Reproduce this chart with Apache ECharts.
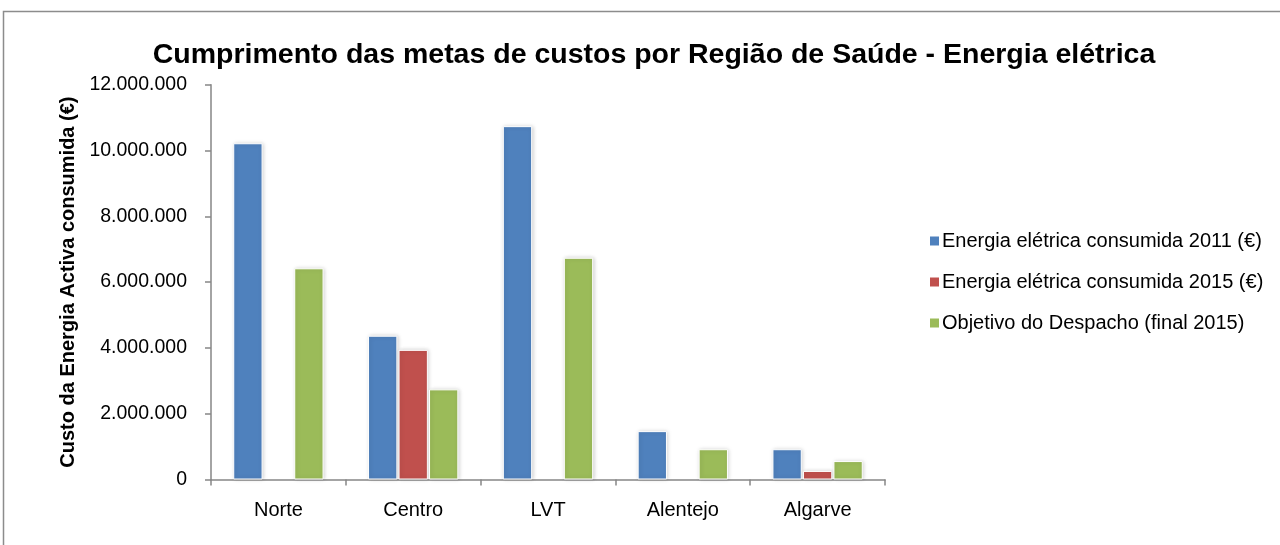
<!DOCTYPE html>
<html>
<head>
<meta charset="utf-8">
<script src="https://cdn.jsdelivr.net/npm/echarts@6/dist/echarts.min.js"></script>
<style>
  html, body { margin: 0; padding: 0; background: #fff; }
  #chart { width: 1280px; height: 545px; }
</style>
</head>
<body>
<div id="chart"></div>
<script>
// regiões de saúde
const regioes = ['Norte', 'Centro', 'LVT', 'Alentejo', 'Algarve'];
// valores (€)
const consumo2011 = [10220000, 4370000, 10740000, 1470000, 920000];
const consumo2015 = [null, 3940000, null, null, 260000];
const objetivo2015 = [6420000, 2740000, 6740000, 920000, 560000];
const nomesSeries = [
  'Energia elétrica consumida 2011 (€)',
  'Energia elétrica consumida 2015 (€)',
  'Objetivo do Despacho (final 2015)'
];
const titulo = 'Cumprimento das metas de custos por Região de Saúde - Energia elétrica';

const fonte = 'Liberation Sans, Arial, sans-serif';
const cores = ['#4F81BD', '#C0504D', '#9BBB59'];

function barra(nome, dados, cor) {
  return {
    name: nome,
    type: 'bar',
    data: dados,
    barGap: '4%',
    barCategoryGap: '33%',
    itemStyle: {
      color: cor,
      borderColor: '#fff',
      borderWidth: 1,
      shadowColor: 'rgba(0,0,0,0.18)',
      shadowBlur: 4,
      shadowOffsetX: 1,
      shadowOffsetY: 0
    }
  };
}

const chart = echarts.init(document.getElementById('chart'));
chart.setOption({
  animation: false,
  color: cores,
  graphic: [
    {
      type: 'rect',
      shape: { x: 3.5, y: 11.5, width: 1400, height: 700 },
      style: { fill: 'none', stroke: '#8c8c8c', lineWidth: 1.5 },
      silent: true
    },
    {
      type: 'text',
      x: 654,
      y: 55,
      style: {
        text: titulo,
        fontFamily: fonte,
        fontSize: 28.5,
        fontWeight: 'bold',
        fill: '#000',
        align: 'center',
        verticalAlign: 'middle'
      },
      silent: true
    }
  ],
  legend: {
    orient: 'vertical',
    left: 923,
    top: 226,
    itemWidth: 11,
    itemHeight: 11,
    itemGap: 21,
    icon: 'rect',
    data: nomesSeries,
    textStyle: { fontFamily: fonte, fontSize: 20, color: '#000', padding: [0, 0, 0, -3] }
  },
  grid: { left: 211, top: 84.7, right: 395, bottom: 65.5, containLabel: false },
  xAxis: {
    type: 'category',
    data: regioes,
    axisLine: { lineStyle: { color: '#868686', width: 1.5 } },
    axisTick: { show: true, length: 6, alignWithLabel: false, lineStyle: { color: '#868686', width: 1.5 } },
    axisLabel: { fontFamily: fonte, fontSize: 20, color: '#000', margin: 21 }
  },
  yAxis: {
    type: 'value',
    min: 0,
    max: 12000000,
    interval: 2000000,
    name: 'Custo da Energia Activa consumida (€)',
    nameLocation: 'middle',
    nameGap: 132,
    nameTextStyle: { fontFamily: fonte, fontSize: 20, fontWeight: 'bold', color: '#000' },
    splitLine: { show: false },
    axisLine: { show: true, lineStyle: { color: '#868686', width: 1.5 } },
    axisTick: { show: true, length: 6, lineStyle: { color: '#868686', width: 1.5 } },
    axisLabel: {
      fontFamily: fonte, fontSize: 19.5, color: '#000', margin: 24,
      formatter: v => String(v).replace(/\B(?=(\d{3})+(?!\d))/g, '.')
    }
  },
  series: [
    barra(nomesSeries[0], consumo2011, cores[0]),
    barra(nomesSeries[1], consumo2015, cores[1]),
    barra(nomesSeries[2], objetivo2015, cores[2])
  ]
});
</script>
</body>
</html>
